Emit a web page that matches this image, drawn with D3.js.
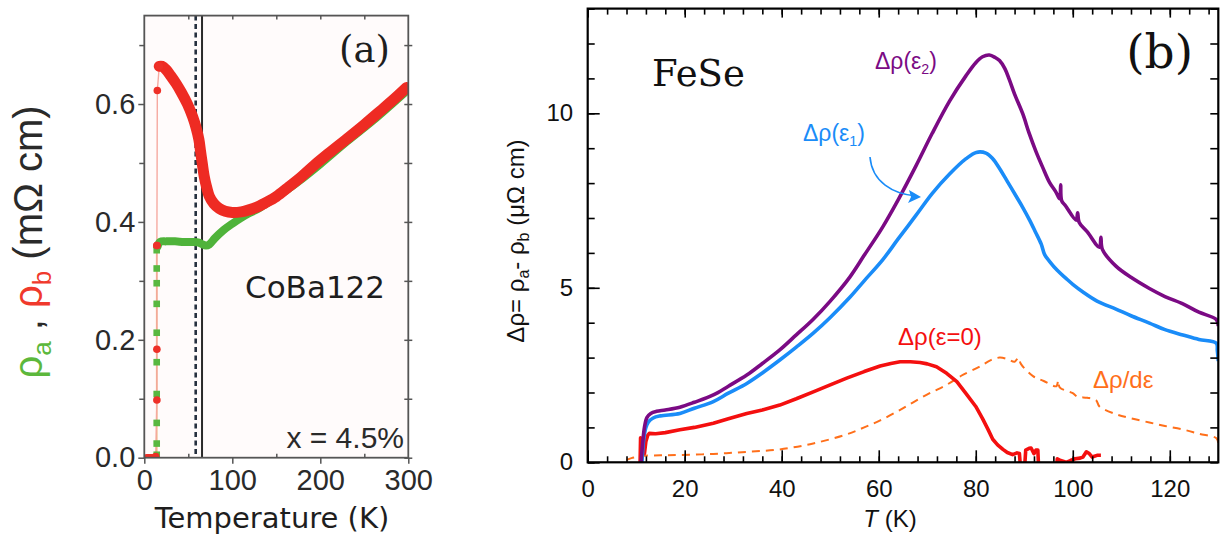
<!DOCTYPE html>
<html><head><meta charset="utf-8">
<script src="https://cdn.jsdelivr.net/npm/d3@7"></script>
<style>body{margin:0;background:#fff}svg{display:block}</style>
</head><body>
<svg id="chart" width="1225" height="539"></svg>
<script>
// ---------- Panel (a) data : CoBa122 ----------
const aBandRedT = [17,20,25,30,36,42,49,55,59,62,64,66,68,71,74,79,85,92,100,110,118,128,137,150,163,178,193,210,231,250,268,285,298];
const aBandRedV = [0.664,0.664,0.658,0.648,0.635,0.620,0.600,0.578,0.559,0.540,0.519,0.498,0.478,0.458,0.443,0.431,0.423,0.418,0.416,0.417,0.420,0.425,0.432,0.443,0.458,0.476,0.496,0.517,0.542,0.565,0.588,0.610,0.628];
const aBandGreenT = [15,18,25,35,45,55,62,66,70,74,80,90,100,110,118,128,140,160,180,200,230,260,298];
const aBandGreenV = [0.358,0.366,0.367,0.367,0.366,0.366,0.365,0.362,0.360,0.362,0.372,0.386,0.397,0.407,0.414,0.421,0.432,0.452,0.474,0.498,0.536,0.572,0.622];
const aRedDotT = [3,5,7,9,11,13,14.3,14.3,14.3,14.3,14.8,17];
const aRedDotV = [0,0,0,0,0,0.002,0.098,0.184,0.360,0.360,0.623,0.664];
const aGreenSqT = [14.1,14.1,14.1,14.1,14.1,14.1,14.1,14.1,14.1,14.1];
const aGreenSqV = [0.005,0.024,0.059,0.108,0.162,0.212,0.261,0.296,0.321,0.352];
const aMarkerT = [58.4, 65.6];
const aXTicks = [0,100,200,300];
const aYTicks = [0,0.2,0.4,0.6];

// ---------- Panel (b) data : FeSe ----------
const bPurpleT = [11.0,11.3,11.7,12.2,13,14.2,16,19,22,25.9,29,32.8,36,39.6,43,46.5,50,54,57,60.8,64,67.7,71,74.6,78,80,81.4,82.8,84,84.9,86,86.9,88,89.7,91,92.4,93.8,95.2,96.5,97.3,97.5,97.7,98.5,100.7,101,101.3,103,105.5,105.8,106.1,108.9,112,115.8,119,122.7,126,129.6,130];
const bPurpleV = [0.0,0.5,1.0,1.28,1.40,1.46,1.50,1.58,1.72,1.93,2.18,2.50,2.83,3.22,3.65,4.10,4.62,5.30,5.93,6.74,7.52,8.50,9.42,10.35,11.08,11.45,11.62,11.67,11.60,11.51,11.28,10.97,10.55,9.98,9.43,8.91,8.45,8.02,7.75,7.55,7.95,7.50,7.35,6.94,7.15,6.88,6.60,6.16,6.45,6.10,5.62,5.30,4.98,4.75,4.54,4.30,4.09,3.90];
const bBlueT = [11.2,11.5,12.0,12.5,13.5,15,19,22,25.9,29,32.8,36,39.6,43,46.5,50,54,57,60.8,64,67.7,71,74.6,78,80.1,82.1,83.5,84.9,86.5,88.3,89.7,91.1,92.3,93.5,94.2,95.2,96.8,98.6,100,102.1,105,108.9,112,115.8,119,122.7,126,129.6,129.8,130];
const bBlueV = [0.0,0.6,1.0,1.15,1.27,1.33,1.40,1.55,1.74,1.98,2.26,2.56,2.93,3.30,3.70,4.15,4.72,5.20,5.80,6.40,7.08,7.70,8.26,8.70,8.88,8.86,8.70,8.42,8.05,7.63,7.30,6.94,6.60,6.25,5.95,5.76,5.50,5.27,5.10,4.88,4.62,4.39,4.20,3.99,3.80,3.65,3.52,3.41,3.20,2.90];
const bRedT = [10.8,10.9,11.1,11.4,11.7,12.0,12.4,12.7,14,16,19,22,25.9,29,32.8,36,39.6,43,46.5,50,53.4,57,60.3,62.5,64.4,66.5,68.5,70,71.9,74,76.1,78,80,81.4,82.5,83.5,84.5,85.6,86.5,87.6,88.5,89.0,89.3,90.0,90.3,91,91.4,92,92.4,92.8,93.0,96.6,96.8,97.5,98.6,99.5,100.5,101.5,102.1,102.8,103.4,104,105,105.8];
const bRedV = [0.0,0.7,0.35,0.55,0.25,0.6,0.78,0.83,0.82,0.85,0.93,1.00,1.12,1.25,1.40,1.50,1.64,1.82,2.02,2.22,2.41,2.60,2.76,2.83,2.88,2.88,2.86,2.82,2.74,2.55,2.31,1.97,1.60,1.25,0.95,0.66,0.50,0.37,0.28,0.22,0.27,0.25,-0.3,-0.3,0.35,0.40,0.41,0.25,0.35,0.35,-0.3,-0.3,0.10,0.05,0.0,0.05,0.10,0.12,0.15,0.30,0.25,0.15,0.20,0.20];
const bOrangeT = [8.0,9,10,11.1,15,19,25.9,32.8,39.6,46.5,53.4,57,60.3,64,67.1,70.5,74,77,80.9,83,84.9,86.5,88,88.8,89.3,91.8,94,96.6,97,97.3,100,101,103,104.8,105.5,108.9,112,115.8,119,122.7,126,129.6,130];
const bOrangeV = [0.07,0.12,0.15,0.18,0.20,0.21,0.24,0.30,0.37,0.54,0.80,1.00,1.20,1.47,1.72,1.98,2.22,2.48,2.75,2.92,3.00,2.96,2.88,3.00,2.82,2.47,2.33,2.18,2.35,2.15,1.98,1.88,1.85,1.78,1.60,1.38,1.26,1.14,1.04,0.94,0.82,0.69,0.55];
const bXMajor = [0,20,40,60,80,100,120];
const bYMajor = [0,5,10];

// ---------- drawing ----------
const svg = d3.select("#chart");
const sans = "'Liberation Sans', Arial, Helvetica, sans-serif";

// ===== Panel (a) =====
const xA = d3.scaleLinear([0,300],[144.3,408.3]);
const yA = d3.scaleLinear([0,0.75],[457.7,15.6]);
const gA = svg.append("g");
gA.append("rect").attr("x",xA(0)).attr("y",yA(0.75)).attr("width",xA(300)-xA(0)).attr("height",yA(0)-yA(0.75))
  .attr("fill","#fffbfb");
gA.append("defs").append("clipPath").attr("id","clipA").append("rect")
  .attr("x",xA(0)).attr("y",yA(0.75)).attr("width",xA(300)-xA(0)).attr("height",yA(0)-yA(0.75));
const plotA = gA.append("g").attr("clip-path","url(#clipA)");

plotA.append("line").attr("x1",xA(aMarkerT[0])).attr("x2",xA(aMarkerT[0])).attr("y1",yA(0.75)).attr("y2",yA(0))
  .attr("stroke","#26303f").attr("stroke-width",2.6).attr("stroke-dasharray","5,3.5");
plotA.append("line").attr("x1",xA(aMarkerT[1])).attr("x2",xA(aMarkerT[1])).attr("y1",yA(0.75)).attr("y2",yA(0))
  .attr("stroke","#2a2a2a").attr("stroke-width",2);

const lineA = d3.line().x(d=>xA(d[0])).y(d=>yA(d[1])).curve(d3.curveCatmullRom.alpha(0.5));
const lineAlin = d3.line().x(d=>xA(d[0])).y(d=>yA(d[1]));
plotA.append("path").datum(d3.zip(aGreenSqT,aGreenSqV)).attr("d",lineAlin).attr("fill","none").attr("stroke","#eab27a").attr("stroke-width",1.6);
plotA.append("path").datum(d3.zip(aRedDotT,aRedDotV)).attr("d",lineAlin).attr("fill","none").attr("stroke","#f6a9a0").attr("stroke-width",1.4);
plotA.append("path").datum(d3.zip(aBandGreenT,aBandGreenV)).attr("d",lineA).attr("fill","none")
  .attr("stroke","#4fb33a").attr("stroke-width",8).attr("stroke-linecap","round").attr("stroke-linejoin","round");
plotA.selectAll("rect.sq").data(d3.zip(aGreenSqT,aGreenSqV)).join("rect").attr("class","sq")
  .attr("x",d=>xA(d[0])-3.3).attr("y",d=>yA(d[1])-3.3).attr("width",6.6).attr("height",6.6).attr("fill","#58b840");
plotA.append("path").datum(d3.zip(aBandRedT,aBandRedV)).attr("d",lineA).attr("fill","none")
  .attr("stroke","#ee2b23").attr("stroke-width",11).attr("stroke-linecap","round").attr("stroke-linejoin","round");
plotA.selectAll("circle.rd").data(d3.zip(aRedDotT,aRedDotV)).join("circle").attr("class","rd")
  .attr("cx",d=>xA(d[0])).attr("cy",d=>yA(d[1])).attr("r",3.8).attr("fill","#ee3028");

gA.append("rect").attr("x",xA(0)).attr("y",yA(0.75)).attr("width",xA(300)-xA(0)).attr("height",yA(0)-yA(0.75))
  .attr("fill","none").attr("stroke","#555").attr("stroke-width",1.8);

gA.append("g").attr("transform",`translate(${xA(0)},0)`)
  .call(d3.axisLeft(yA).tickValues(aYTicks).tickSize(6).tickPadding(3).tickFormat(d3.format(".1f")));
gA.append("g").attr("transform",`translate(${xA(0)},0)`)
  .call(d3.axisLeft(yA).tickValues([0.1,0.3,0.5,0.7]).tickSize(5).tickFormat(""));
gA.append("g").attr("transform",`translate(${xA(300)},0)`)
  .call(d3.axisRight(yA).tickValues(d3.range(0,0.751,0.1)).tickSize(4).tickFormat(""));
gA.append("g").attr("transform",`translate(${xA(300)},0)`)
  .call(d3.axisRight(yA).tickValues(d3.range(0,0.751,0.1)).tickSize(-4).tickFormat(""));
gA.append("g").attr("transform",`translate(0,${yA(0)})`)
  .call(d3.axisBottom(xA).tickValues(aXTicks).tickSize(6).tickPadding(5.5));
gA.append("g").attr("transform",`translate(0,${yA(0)})`)
  .call(d3.axisBottom(xA).tickValues([50,150,250]).tickSize(-4).tickFormat(""));
gA.append("g").attr("transform",`translate(0,${yA(0.75)})`)
  .call(d3.axisTop(xA).tickValues([50,100,150,200,250]).tickSize(-4).tickFormat(""));
gA.selectAll(".domain").remove();
gA.selectAll(".tick line").attr("stroke","#555").attr("stroke-width",1.5);
gA.selectAll(".tick text").attr("font-family",sans).attr("font-size",29).attr("fill","#2a2a2a");

gA.append("text").attr("x",272).attr("y",528).attr("text-anchor","middle")
  .attr("font-family","'DejaVu Sans', sans-serif").attr("font-size",29).attr("fill","#1e1e1e").text("Temperature (K)");
const ylA = gA.append("text").attr("transform","translate(42,242) rotate(-90)").attr("text-anchor","middle")
  .attr("font-family",sans).attr("font-size",40).attr("fill","#2a2a2a");
ylA.append("tspan").attr("fill","#5cb83c").text("ρ");
ylA.append("tspan").attr("fill","#5cb83c").attr("font-size",26).attr("dy",9).text("a");
ylA.append("tspan").attr("dy",-9).text(" , ");
ylA.append("tspan").attr("fill","#f0392c").text("ρ");
ylA.append("tspan").attr("fill","#f0392c").attr("font-size",26).attr("dy",9).text("b");
ylA.append("tspan").attr("dy",-9).text(" (mΩ cm)");
gA.append("text").attr("x",245).attr("y",298).attr("font-family","'DejaVu Sans', sans-serif").attr("font-size",31)
  .attr("fill","#1e1e1e").text("CoBa122");
gA.append("text").attr("x",404).attr("y",448).attr("text-anchor","end").attr("font-family",sans).attr("font-size",30)
  .attr("fill","#2a2a2a").text("x = 4.5%");
gA.append("text").attr("x",390).attr("y",62).attr("text-anchor","end").attr("font-family","'DejaVu Serif', serif")
  .attr("font-size",37).attr("fill","#1e1e1e").text("(a)");

// ===== Panel (b) =====
const xB = d3.scaleLinear([0,130],[587.7,1218.3]);
const yB = d3.scaleLinear([0,13],[462.3,8.6]);
const gB = svg.append("g");
gB.append("defs").append("clipPath").attr("id","clipB").append("rect")
  .attr("x",xB(0)).attr("y",yB(13)).attr("width",xB(130)-xB(0)).attr("height",yB(0)-yB(13));
const plotB = gB.append("g").attr("clip-path","url(#clipB)");
const lineB = d3.line().x(d=>xB(d[0])).y(d=>yB(d[1])).curve(d3.curveCatmullRom.alpha(0.5));
const lineBlin = d3.line().x(d=>xB(d[0])).y(d=>yB(d[1]));

plotB.append("path").datum(d3.zip(bOrangeT,bOrangeV)).attr("d",lineB).attr("fill","none")
  .attr("stroke","#ff6f1a").attr("stroke-width",2).attr("stroke-dasharray","8,6");
plotB.append("path").datum(d3.zip(bRedT,bRedV)).attr("d",lineBlin).attr("fill","none")
  .attr("stroke","#f40f0f").attr("stroke-width",3.6).attr("stroke-linejoin","round");
plotB.append("path").datum(d3.zip(bBlueT,bBlueV)).attr("d",lineB).attr("fill","none")
  .attr("stroke","#1a8cf8").attr("stroke-width",3.6).attr("stroke-linejoin","round");
plotB.append("path").datum(d3.zip(bPurpleT,bPurpleV)).attr("d",lineB).attr("fill","none")
  .attr("stroke","#7b0a84").attr("stroke-width",3.6).attr("stroke-linejoin","round");

const axB = gB.append("g");
axB.append("g").attr("transform",`translate(0,${yB(0)})`)
  .call(d3.axisBottom(xB).tickValues(d3.range(0,131,4)).tickSize(-6).tickFormat(""));
axB.append("g").attr("transform",`translate(0,${yB(0)})`)
  .call(d3.axisBottom(xB).tickValues(bXMajor).tickSize(-12).tickPadding(17.5));
axB.append("g").attr("transform",`translate(0,${yB(13)})`)
  .call(d3.axisTop(xB).tickValues(d3.range(0,131,4)).tickSize(-6).tickFormat(""));
axB.append("g").attr("transform",`translate(0,${yB(13)})`)
  .call(d3.axisTop(xB).tickValues(bXMajor).tickSize(-9).tickFormat(""));
axB.append("g").attr("transform",`translate(${xB(0)},0)`)
  .call(d3.axisLeft(yB).tickValues(d3.range(0,14,1)).tickSize(-7).tickFormat(""));
axB.append("g").attr("transform",`translate(${xB(0)},0)`)
  .call(d3.axisLeft(yB).tickValues(bYMajor).tickSize(-12).tickPadding(14.5));
axB.append("g").attr("transform",`translate(${xB(130)},0)`)
  .call(d3.axisRight(yB).tickValues(d3.range(0,14,1)).tickSize(-8).tickFormat(""));
axB.selectAll(".domain").remove();
axB.selectAll(".tick line").attr("stroke","#000").attr("stroke-width",1.6);
axB.selectAll(".tick text").attr("font-family",sans).attr("font-size",24).attr("fill","#111");
gB.append("rect").attr("x",xB(0)).attr("y",yB(13)).attr("width",xB(130)-xB(0)).attr("height",yB(0)-yB(13))
  .attr("fill","none").attr("stroke","#000").attr("stroke-width",2.2);

const xl = gB.append("text").attr("x",890).attr("y",527).attr("text-anchor","middle")
  .attr("font-family",sans).attr("font-size",24).attr("fill","#111");
xl.append("tspan").attr("font-style","italic").text("T");
xl.append("tspan").text(" (K)");
const yl = gB.append("text").attr("transform","translate(524,241) rotate(-90)").attr("text-anchor","middle")
  .attr("font-family",sans).attr("font-size",24).attr("fill","#111");
yl.append("tspan").text("Δρ= ρ");
yl.append("tspan").attr("font-size",16).attr("dy",5).text("a");
yl.append("tspan").attr("dy",-5).text("- ρ");
yl.append("tspan").attr("font-size",16).attr("dy",5).text("b");
yl.append("tspan").attr("dy",-5).text(" (μΩ cm)");

gB.append("text").attr("x",652).attr("y",86).attr("font-family","'DejaVu Serif', serif").attr("font-size",37)
  .attr("fill","#111").text("FeSe");
gB.append("text").attr("x",1193).attr("y",68).attr("text-anchor","end").attr("font-family","'DejaVu Serif', serif")
  .attr("font-size",47).attr("fill","#111").text("(b)");

function sublabel(x,y,color,pre,sub,post,size){
  const t = gB.append("text").attr("x",x).attr("y",y).attr("font-family",sans).attr("font-size",size).attr("fill",color);
  t.append("tspan").text(pre);
  if(sub){ t.append("tspan").attr("font-size",size*0.62).attr("dy",5).text(sub);
           t.append("tspan").attr("dy",-5).text(post); }
  return t;
}
sublabel(875,69,"#7b0a84","Δρ(ε","2",")",23);
sublabel(803,141,"#1a8cf8","Δρ(ε","1",")",23);
sublabel(898,345,"#f40f0f","Δρ(ε=0)",null,null,24);
sublabel(1093,388,"#ff6f1a","Δρ/dε",null,null,24);

gB.append("path").attr("d","M870,157 C872,182 893,194 916,196").attr("fill","none")
  .attr("stroke","#1a8cf8").attr("stroke-width",1.6);
gB.append("path").attr("d","M921,197 L909,190 L911,197 L908,203 Z").attr("fill","#1a8cf8");
</script>
</body></html>
